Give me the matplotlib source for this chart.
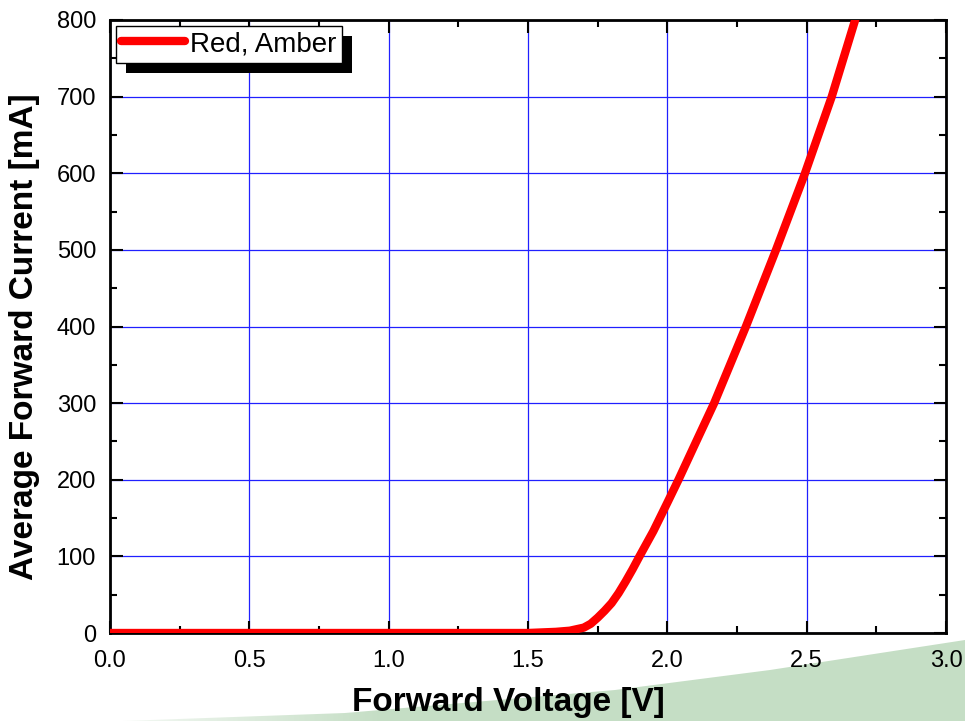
import numpy as np
import matplotlib.pyplot as plt
from matplotlib.patches import Polygon, Rectangle

# values
voltage = [0.0, 0.5, 1.0, 1.5, 1.6, 1.65, 1.7, 1.725, 1.75, 1.775, 1.8, 1.825,
           1.85, 1.875, 1.9, 1.95, 2.0, 2.04, 2.1, 2.168, 2.282, 2.39, 2.494,
           2.59, 2.674, 2.72]
current = [0, 0, 0, 0, 1.5, 3, 7, 12, 20, 29, 39, 52,
           67, 83, 100, 133, 170, 200, 247, 300, 400, 500, 600,
           700, 800, 855]

x_ticks = [0.0, 0.5, 1.0, 1.5, 2.0, 2.5, 3.0]
y_ticks = [0, 100, 200, 300, 400, 500, 600, 700, 800]

W, H = 965, 721
plt.rcParams['font.family'] = ['Liberation Sans', 'DejaVu Sans']

fig = plt.figure(figsize=(W / 100, H / 100), dpi=100)
fig.patch.set_facecolor('white')

# green decorative wedge at the bottom right
bg = fig.add_axes([0, 0, 1, 1], zorder=-5)
bg.set_xlim(0, W)
bg.set_ylim(H, 0)
bg.axis('off')
edge = [(40, 724), (123, 721), (345, 713), (615, 690), (770, 670), (965, 640), (965, 724)]
poly = Polygon(edge, closed=True, facecolor='none', edgecolor='none')
bg.add_patch(poly)
green = np.array([0.776, 0.871, 0.776])
grad = np.ones((2, 256, 4))
grad[..., :3] = green
grad[..., 3] = np.clip((np.linspace(0, W, 256) - 60) / 320, 0, 1)[None, :]
im = bg.imshow(grad, extent=[0, W, H, 600], aspect='auto', interpolation='bilinear')
im.set_clip_path(poly)

ax = fig.add_axes([110 / W, 88 / H, 836 / W, 613 / H])
ax.plot(voltage, current, color='#ff0000', linewidth=6, solid_capstyle='round',
        solid_joinstyle='round', label='Red, Amber', zorder=3)

ax.set_xlim(0, 3.0)
ax.set_ylim(0, 800)
ax.set_xticks(x_ticks)
ax.set_xticklabels([f'{v:.1f}' for v in x_ticks])
ax.set_yticks(y_ticks)
ax.set_xticks(np.arange(0.25, 3.0, 0.5), minor=True)
ax.set_yticks(np.arange(50, 800, 100), minor=True)
ax.tick_params(which='both', direction='in', top=True, right=True, width=1.5, colors='black')
ax.tick_params(which='major', length=9, labelsize=17)
ax.tick_params(which='minor', length=5)
ax.tick_params(axis='x', which='major', pad=12)
ax.tick_params(axis='y', which='major', pad=10)
ax.grid(True, which='major', color='#2020ff', linewidth=0.9)
ax.set_axisbelow(True)
for s in ax.spines.values():
    s.set_linewidth(2)
    s.set_color('black')

fig.text(508 / W, 1 - 703 / H, 'Forward Voltage [V]', ha='center', va='center',
         fontsize=24, fontweight='bold')
fig.text(25 / W, 1 - 337 / H, 'Average Forward Current [mA]', ha='center', va='center',
         rotation=90, fontsize=24, fontweight='bold')

leg = ax.legend(loc='upper left', fontsize=20, frameon=True, fancybox=False,
                borderaxespad=0.2, borderpad=0.2, handlelength=2.3, handletextpad=0.18,
                edgecolor='black', framealpha=1)
leg.get_frame().set_linewidth(1)
leg.set_zorder(10)

# black drop shadow behind the legend box
fig.canvas.draw()
bb = leg.get_window_extent()
shadow = Rectangle((bb.x0 + 10, bb.y0 - 10), bb.width, bb.height, transform=None,
                   facecolor='black', edgecolor='none', zorder=9)
ax.add_artist(shadow)

fig.savefig('out.png', dpi=100)
